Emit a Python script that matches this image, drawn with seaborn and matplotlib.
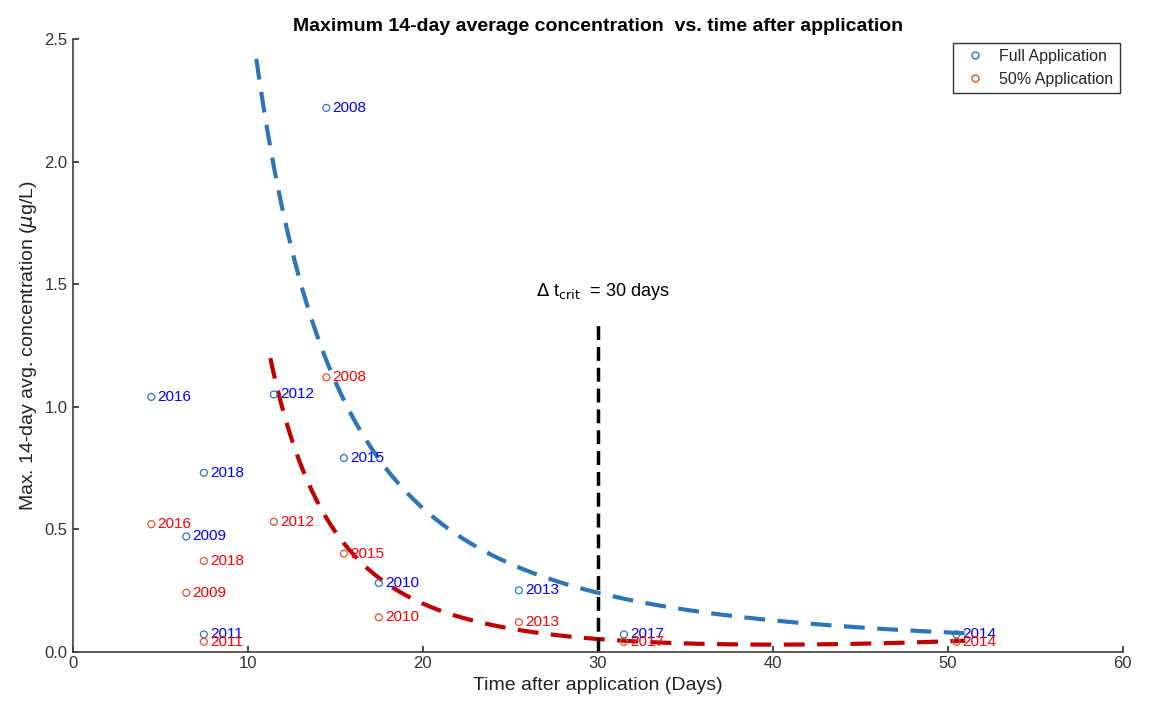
import numpy as np
import pandas as pd
import matplotlib
matplotlib.use('Agg')
import matplotlib.pyplot as plt
from matplotlib.lines import Line2D
import seaborn as sns

sns.set_theme(style="white")
plt.rcParams['font.family'] = ['Liberation Sans', 'DejaVu Sans']

# ── DATA ─────────────────────────────────────────────
years = ['2008', '2016', '2012', '2018', '2015', '2009', '2010', '2013', '2011', '2017', '2014']
days = [14.5, 4.5, 11.5, 7.5, 15.5, 6.5, 17.5, 25.5, 7.5, 31.5, 50.5]
conc_full = [2.22, 1.04, 1.05, 0.73, 0.79, 0.47, 0.28, 0.25, 0.07, 0.07, 0.07]
conc_half = [1.12, 0.52, 0.53, 0.37, 0.40, 0.24, 0.14, 0.12, 0.04, 0.04, 0.04]

# fitted curve parameters
full_fit = dict(a=2.42, x0=10.5, b=-2.2, x_start=10.5, x_end=51.0)
half_fit = dict(a=1.17, x0=11.3, b=-3.2, q=0.00008, x_start=11.3, x_end=51.0)
t_crit = 30
t_crit_top = 1.35

full_col = '#2e75b6'
half_col = '#e2542b'

df = pd.DataFrame({'year': years * 2, 'days': days * 2,
                   'conc': conc_full + conc_half,
                   'series': ['Full Application'] * len(years) + ['50% Application'] * len(years)})

fig, ax = plt.subplots(figsize=(11.5, 7.12), dpi=100)

xf = np.linspace(full_fit['x_start'], full_fit['x_end'], 200)
yf = full_fit['a'] * (xf / full_fit['x0']) ** full_fit['b']
xh = np.linspace(half_fit['x_start'], half_fit['x_end'], 200)
yh = half_fit['a'] * (xh / half_fit['x0']) ** half_fit['b'] + half_fit['q'] * (xh - 30) ** 2
ax.plot(xf, yf, '--', color=full_col, lw=3, dashes=(5, 3))
ax.plot(xh, yh, '--', color='#c00000', lw=3, dashes=(5, 3))

sns.scatterplot(data=df, x='days', y='conc', hue='series',
                palette={'Full Application': full_col, '50% Application': half_col},
                marker='o', s=25, linewidth=0.9, ax=ax, zorder=3, legend=False)
for c in ax.collections:
    c.set_facecolor('none')
    c.set_edgecolors([full_col] * len(years) + [half_col] * len(years))

for y, d, cf, ch in zip(years, days, conc_full, conc_half):
    ax.text(d + 0.35, cf, y, color='blue', fontsize=11, va='center')
    ax.text(d + 0.35, ch, y, color='red', fontsize=11, va='center')

ax.plot([t_crit, t_crit], [0, t_crit_top], '--', color='black', lw=2.5, dashes=(4, 2))
ax.text(26.5, 1.45, r'$\Delta$ t$_{\mathrm{crit}}$  = 30 days', fontsize=13, color='black')

ax.set_xlim(0, 60)
ax.set_ylim(0, 2.5)
ax.set_xticks(range(0, 61, 10))
ax.set_yticks(np.arange(0, 2.51, 0.5))
ax.set_yticklabels([f'{v:.1f}' for v in np.arange(0, 2.51, 0.5)])
ax.tick_params(labelsize=12, direction='in', length=4, bottom=True, left=True, colors='#333333')
for s in ['top', 'right']:
    ax.spines[s].set_visible(False)
for s in ['left', 'bottom']:
    ax.spines[s].set_color('#444444')
ax.set_xlabel('Time after application (Days)', fontsize=14, color='#222222')
ax.set_ylabel(r'Max. 14-day avg. concentration ($\mu$g/L)', fontsize=14, color='#222222')
ax.set_title('Maximum 14-day average concentration  vs. time after application',
             fontsize=14, fontweight='bold', color='black')

h = [Line2D([], [], marker='o', ls='none', mfc='none', mec=full_col, ms=5),
     Line2D([], [], marker='o', ls='none', mfc='none', mec=half_col, ms=5)]
ax.legend(h, ['Full Application', '50% Application'], loc='upper right', fontsize=11.5,
          frameon=True, fancybox=False, edgecolor='black', handletextpad=0.5, borderaxespad=0.2)

plt.tight_layout()
plt.savefig('out.png', dpi=100)
